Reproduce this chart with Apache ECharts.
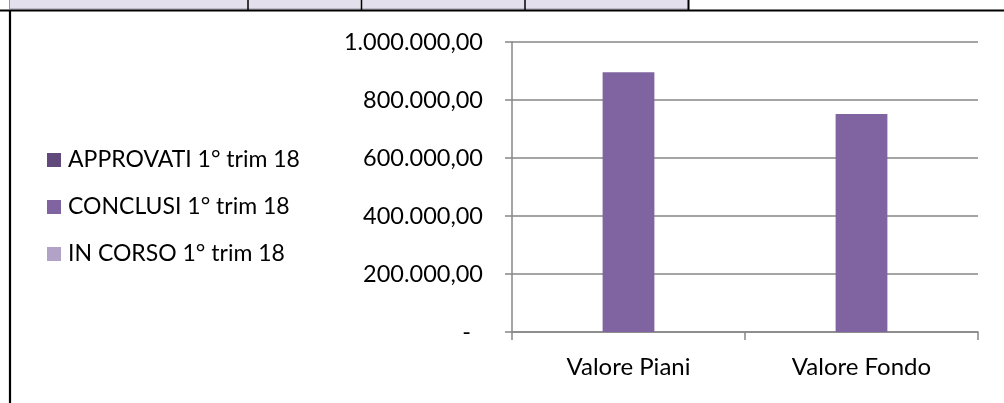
<!DOCTYPE html>
<html>
<head>
<meta charset="utf-8">
<script src="https://cdn.jsdelivr.net/npm/echarts@6/dist/echarts.min.js"></script>
<style>
html,body{margin:0;padding:0;background:#fff;}
#c{width:1004px;height:403px;}
</style>
</head>
<body>
<div id="c"></div>
<script>
const categories = ['Valore Piani', 'Valore Fondo'];
const seriesNames = ['APPROVATI 1° trim 18', 'CONCLUSI 1° trim 18', 'IN CORSO 1° trim 18'];
const approvati = [0, 0];
const conclusi = [896000, 752000];
const inCorso = [0, 0];
const seriesColors = ['#604a7b', '#8064a2', '#b3a2c7'];
const yTicks = { min: 0, max: 1000000, interval: 200000 };
const tableTexts = ['TOTALE 1° trim 2018', '0'];

const FONT = 'Lato, "Open Sans", sans-serif';

function fmtIt(v) {
  if (v === 0) return '-  ';
  const s = Math.round(v).toString().replace(/\B(?=(\d{3})+(?!\d))/g, '.');
  return s + ',00';
}

const chart = echarts.init(document.getElementById('c'), null, { renderer: 'canvas' });
const dataSets = [approvati, conclusi, inCorso];

chart.setOption({
  animation: false,
  backgroundColor: '#ffffff',
  grid: { left: 512, right: 26, top: 42, bottom: 71, containLabel: false },
  legend: {
    orient: 'vertical',
    left: 47,
    top: 148,
    padding: 0,
    itemWidth: 14,
    itemHeight: 14,
    itemGap: 23,
    icon: 'rect',
    data: seriesNames,
    textStyle: { fontFamily: FONT, fontSize: 23, color: '#000', lineHeight: 24, padding: [0,0,0,2] }
  },
  xAxis: {
    type: 'category',
    data: categories,
    boundaryGap: true,
    axisLine: { lineStyle: { color: '#868686', width: 1.5 } },
    axisTick: { show: true, length: 8, lineStyle: { color: '#868686', width: 1.5 } },
    axisLabel: { fontFamily: FONT, fontSize: 24, color: '#000', margin: 23 }
  },
  yAxis: {
    type: 'value',
    min: yTicks.min, max: yTicks.max, interval: yTicks.interval,
    axisLine: { show: true, lineStyle: { color: '#868686', width: 1.5 } },
    axisTick: { show: true, length: 7, lineStyle: { color: '#868686', width: 1.5 } },
    splitLine: { show: true, lineStyle: { color: '#868686', width: 1.5 } },
    axisLabel: { fontFamily: FONT, fontSize: 23.5, color: '#000', margin: 29, formatter: fmtIt }
  },
  series: seriesNames.map((n, i) => ({
    name: n,
    type: 'bar',
    data: dataSets[i],
    barGap: '0%',
    barCategoryGap: '33.33%',
    itemStyle: { color: seriesColors[i] }
  })),
  graphic: [
    { type: 'rect', shape: { x: 9.5, y: -2, width: 679, height: 11 }, style: { fill: '#e4dfec', stroke: '#9a94a8', lineWidth: 1 } },
    { type: 'line', shape: { x1: 248, y1: -2, x2: 248, y2: 10 }, style: { stroke: '#000', lineWidth: 1.5 } },
    { type: 'line', shape: { x1: 361.5, y1: -2, x2: 361.5, y2: 10 }, style: { stroke: '#000', lineWidth: 1.5 } },
    { type: 'line', shape: { x1: 525, y1: -2, x2: 525, y2: 10 }, style: { stroke: '#000', lineWidth: 1.5 } },
    { type: 'line', shape: { x1: 688.5, y1: -2, x2: 688.5, y2: 10 }, style: { stroke: '#000', lineWidth: 2 } },
    { type: 'text', x: 95, y: -5.5, style: { text: tableTexts[0], fontFamily: FONT, fontSize: 16, fill: '#000', align: 'center', verticalAlign: 'middle' } },
    { type: 'text', x: 303, y: -5.5, style: { text: tableTexts[1], fontFamily: FONT, fontSize: 16, fill: '#6b5a2a', align: 'center', verticalAlign: 'middle' } },
    { type: 'line', shape: { x1: 0, y1: 10.5, x2: 1004, y2: 10.5 }, style: { stroke: '#000', lineWidth: 2.2 } },
    { type: 'line', shape: { x1: 10, y1: 10, x2: 10, y2: 403 }, style: { stroke: '#000', lineWidth: 2.2 } }
  ]
});
</script>
</body>
</html>
